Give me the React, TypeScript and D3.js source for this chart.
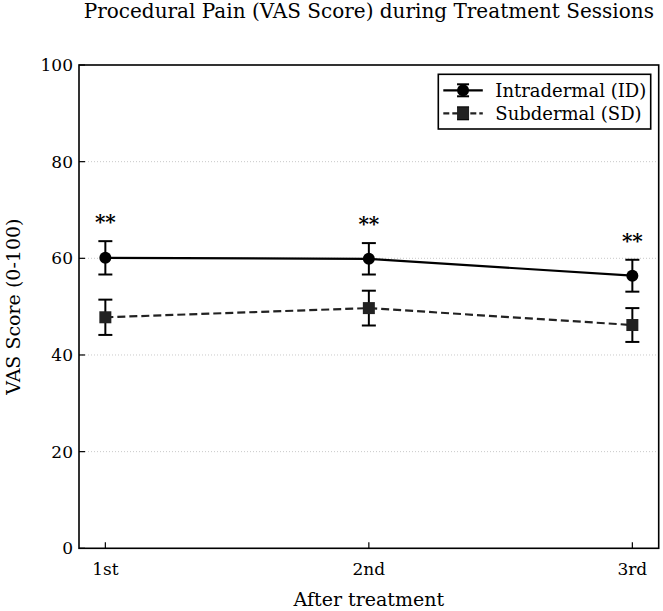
import React from "react";
import { scaleLinear, line as d3_line } from "d3";

const sessions = ["1st", "2nd", "3rd"];
const idMean = [60.1, 59.9, 56.4];
const idErr = [3.45, 3.25, 3.3];
const sdMean = [47.8, 49.7, 46.2];
const sdErr = [3.65, 3.6, 3.5];
const yTicks = [0, 20, 40, 60, 80, 100];
const gridTicks = [20, 40, 60, 80];
const sigLabels = ["**", "**", "**"];

const W = 663;
const H = 611;
const margin = { top: 65, right: 4.3, bottom: 62.7, left: 79 };
const FONT = "'DejaVu Serif', serif";

type Pt = { i: number; v: number };

export default function App() {
    const xScale = scaleLinear()
        .domain([-0.1, 2.1])
        .range([margin.left, W - margin.right]);
    const yScale = scaleLinear()
        .domain([0, 100])
        .range([H - margin.bottom, margin.top]);

    const line = d3_line<Pt>()
        .x((d) => xScale(d.i))
        .y((d) => yScale(d.v));

    const idPath = line(idMean.map((v, i) => ({ i, v }))) ?? "";
    const sdPath = line(sdMean.map((v, i) => ({ i, v }))) ?? "";

    const x0 = margin.left;
    const x1 = W - margin.right;
    const y0 = H - margin.bottom;
    const y1 = margin.top;

    const errBar = (x: number, m: number, e: number, key: string) => (
        <g key={key} stroke="#000" strokeWidth={2}>
            <line x1={x} x2={x} y1={yScale(m + e)} y2={yScale(m - e)} />
            <line x1={x - 7} x2={x + 7} y1={yScale(m + e)} y2={yScale(m + e)} />
            <line x1={x - 7} x2={x + 7} y1={yScale(m - e)} y2={yScale(m - e)} />
        </g>
    );

    // legend
    const lgX = 438.3;
    const lgY = 74.3;
    const lgW = 212.4;
    const lgH = 54.7;
    const rows = [lgY + 16, lgY + 39];
    const sx0 = lgX + 5;
    const sx1 = lgX + 44.5;
    const sxm = (sx0 + sx1) / 2;

    return (
        <svg width={W} height={H} style={{ position: "absolute", left: 0, top: 0, background: "#fff" }}>
            {/* Grid lines */}
            {gridTicks.map((t) => (
                <line
                    key={t}
                    x1={x0}
                    x2={x1}
                    y1={yScale(t)}
                    y2={yScale(t)}
                    stroke="#bbb"
                    strokeWidth={0.8}
                    strokeDasharray="1,2"
                />
            ))}

            {/* SD series */}
            <path d={sdPath} fill="none" stroke="#222" strokeWidth={2.2} strokeDasharray="8,4" />
            {sdMean.map((m, i) => errBar(xScale(i), m, sdErr[i], `sde${i}`))}
            {sdMean.map((m, i) => (
                <rect
                    key={`sdm${i}`}
                    x={xScale(i) - 6}
                    y={yScale(m) - 6}
                    width={12}
                    height={12}
                    fill="#222"
                />
            ))}

            {/* ID series */}
            <path d={idPath} fill="none" stroke="#000" strokeWidth={2.2} />
            {idMean.map((m, i) => errBar(xScale(i), m, idErr[i], `ide${i}`))}
            {idMean.map((m, i) => (
                <circle key={`idm${i}`} cx={xScale(i)} cy={yScale(m)} r={6} fill="#000" />
            ))}

            {/* Significance */}
            {sigLabels.map((s, i) => (
                <text
                    key={`sig${i}`}
                    x={xScale(i)}
                    y={yScale(idMean[i] + idErr[i] + 5) + 12}
                    textAnchor="middle"
                    fontFamily={FONT}
                    fontSize={20}
                    fontWeight="bold"
                >
                    {s}
                </text>
            ))}

            {/* Frame */}
            <rect x={x0} y={y1} width={x1 - x0} height={y0 - y1} fill="none" stroke="#000" strokeWidth={1.6} />

            {/* Y axis */}
            {yTicks.map((t) => (
                <g key={t}>
                    <line x1={x0} x2={x0 + 6} y1={yScale(t)} y2={yScale(t)} stroke="#000" strokeWidth={1.2} />
                    <text
                        x={x0 - 6}
                        y={yScale(t)}
                        dy="0.36em"
                        textAnchor="end"
                        fontFamily={FONT}
                        fontSize={17}
                    >
                        {t}
                    </text>
                </g>
            ))}

            {/* X axis */}
            {sessions.map((s, i) => (
                <g key={s}>
                    <line x1={xScale(i)} x2={xScale(i)} y1={y0} y2={y0 - 6} stroke="#000" strokeWidth={1.2} />
                    <text x={xScale(i)} y={575} textAnchor="middle" fontFamily={FONT} fontSize={17}>
                        {s}
                    </text>
                </g>
            ))}

            {/* Labels */}
            <text x={(x0 + x1) / 2} y={18} textAnchor="middle" fontFamily={FONT} fontSize={20}>
                Procedural Pain (VAS Score) during Treatment Sessions
            </text>
            <text x={(x0 + x1) / 2} y={606} textAnchor="middle" fontFamily={FONT} fontSize={19}>
                After treatment
            </text>
            <text
                transform={`translate(20,${(y0 + y1) / 2}) rotate(-90)`}
                textAnchor="middle"
                fontFamily={FONT}
                fontSize={19}
            >
                VAS Score (0-100)
            </text>

            {/* Legend */}
            <rect x={lgX} y={lgY} width={lgW} height={lgH} fill="#fff" stroke="#000" strokeWidth={1.6} />
            <g>
                <line x1={sx0} x2={sx1} y1={rows[0]} y2={rows[0]} stroke="#000" strokeWidth={2.2} />
                <line x1={sxm} x2={sxm} y1={rows[0] - 6} y2={rows[0] + 6} stroke="#000" strokeWidth={2} />
                <line x1={sxm - 6} x2={sxm + 6} y1={rows[0] - 6} y2={rows[0] - 6} stroke="#000" strokeWidth={2} />
                <line x1={sxm - 6} x2={sxm + 6} y1={rows[0] + 6} y2={rows[0] + 6} stroke="#000" strokeWidth={2} />
                <circle cx={sxm} cy={rows[0]} r={6} fill="#000" />
                <text x={lgX + 57} y={rows[0]} dy="0.36em" fontFamily={FONT} fontSize={18}>
                    Intradermal (ID)
                </text>
            </g>
            <g>
                <line x1={sx0} x2={sx1} y1={rows[1]} y2={rows[1]} stroke="#222" strokeWidth={2.2} strokeDasharray="6,3" />
                <line x1={sxm} x2={sxm} y1={rows[1] - 6} y2={rows[1] + 6} stroke="#000" strokeWidth={2} />
                <line x1={sxm - 6} x2={sxm + 6} y1={rows[1] - 6} y2={rows[1] - 6} stroke="#000" strokeWidth={2} />
                <line x1={sxm - 6} x2={sxm + 6} y1={rows[1] + 6} y2={rows[1] + 6} stroke="#000" strokeWidth={2} />
                <rect x={sxm - 6} y={rows[1] - 6} width={12} height={12} fill="#222" />
                <text x={lgX + 57} y={rows[1]} dy="0.36em" fontFamily={FONT} fontSize={18}>
                    Subdermal (SD)
                </text>
            </g>
        </svg>
    );
}
